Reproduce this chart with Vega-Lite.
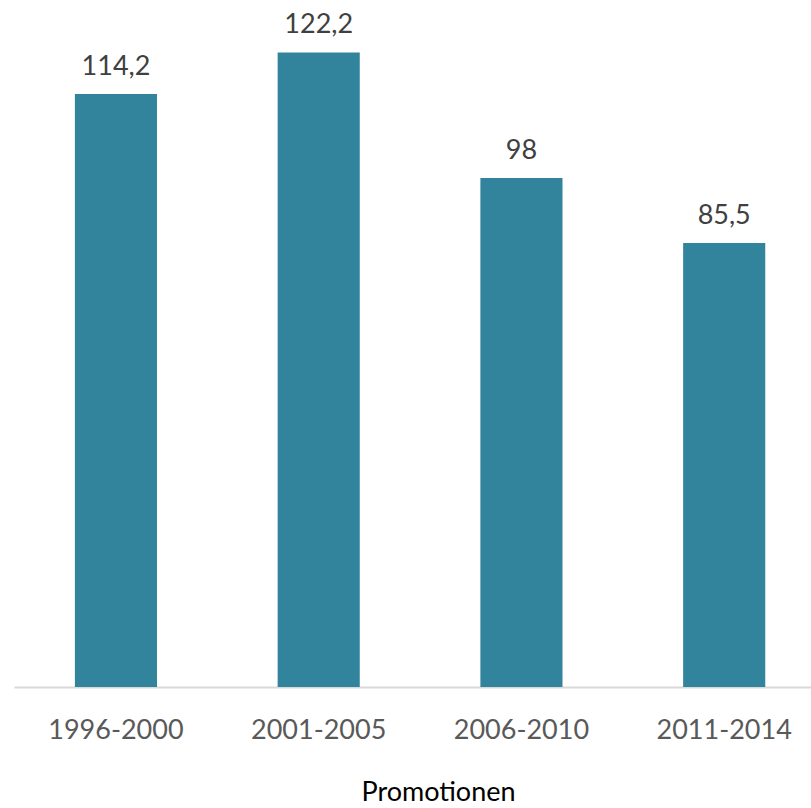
{
  "$schema": "https://vega.github.io/schema/vega-lite/v6.json",
  "width": 797,
  "height": 687,
  "autosize": "none",
  "padding": {"left": 14, "top": 0, "right": 0, "bottom": 121},
  "background": "white",
  "config": {
    "view": {"stroke": null},
    "font": "Lato",
    "locale": {"number": {"decimal": ",", "thousands": ".", "grouping": [3], "currency": ["", " €"]}}
  },
  "data": {"values": [
    {"period": "1996-2000", "value": 114.2},
    {"period": "2001-2005", "value": 122.2},
    {"period": "2006-2010", "value": 98},
    {"period": "2011-2014", "value": 85.5}
  ]},
  "encoding": {
    "x": {
      "field": "period", "type": "nominal", "sort": null,
      "scale": {"paddingInner": 0.595, "paddingOuter": 0.263, "align": 0.571},
      "axis": {
        "title": "Promotionen", "labelAngle": 0, "ticks": false,
        "domainColor": "#d9d9d9", "domainWidth": 2,
        "labelFont": "Lato", "labelFontSize": 27, "labelColor": "#595959", "labelPadding": 30,
        "titleFont": "Lato", "titleFontSize": 27, "titleFontWeight": "normal", "titleColor": "#000000",
        "titleX": 424, "titleY": 113, "titleBaseline": "alphabetic", "titleAnchor": "middle"
      }
    },
    "y": {
      "field": "value", "type": "quantitative",
      "scale": {"domain": [0, 132.3], "nice": false},
      "axis": null
    }
  },
  "layer": [
    {"mark": {"type": "bar", "color": "#31849B"}},
    {
      "mark": {"type": "text", "baseline": "alphabetic", "dy": -19, "font": "Lato", "fontSize": 27, "color": "#404040"},
      "encoding": {"text": {"field": "value", "type": "quantitative", "format": ".1~f"}}
    }
  ]
}
